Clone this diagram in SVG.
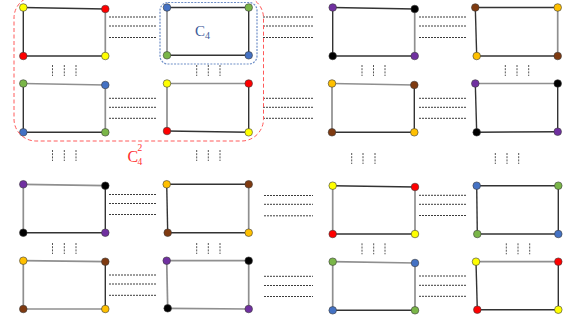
<svg xmlns="http://www.w3.org/2000/svg" width="576" height="322" viewBox="0 0 576 322">
<style>
.d{stroke:#333;stroke-width:1.4;fill:none}
.g{stroke:#8f8f8f;stroke-width:1.7;fill:none}
.v{stroke:#3a3a3a;stroke-width:0.6}
.hc{stroke:#3c3c3c;stroke-width:1;stroke-dasharray:2 1;fill:none}
.vc{stroke:#555;stroke-width:1;stroke-dasharray:2 1.2;fill:none}
.Y{fill:#ffff00}.R{fill:#ff0000}.B{fill:#4472c4}.G{fill:#7ab648}.P{fill:#7030a0}.K{fill:#000}.N{fill:#7f3a10}.O{fill:#ffc000}
</style>
<rect width="576" height="322" fill="#fff"/>
<g id="connectors">
<path class="hc" d="M109,17H157M109,26H157M109,37.5H157"/>
<path class="hc" d="M263,17H313M263,26H313M263,37.5H313"/>
<path class="hc" d="M419,17H467M419,26H467M419,37.5H467"/>
<path class="hc" d="M109,98.3H157M109,107.3H157M109,118.3H157"/>
<path class="hc" d="M263,98.3H313M263,107.3H313M263,118.3H313"/>
<path class="hc" d="M419,98.3H467M419,107.3H467M419,118.3H467"/>
<path class="hc" d="M109,194.5H157M109,203.5H157M109,214.5H157"/>
<path class="hc" d="M264,195.5H313M264,204.3H313M264,215.8H313"/>
<path class="hc" d="M419,195.3H467M419,204.3H467M419,215.5H467"/>
<path class="hc" d="M109,275H157M109,284H157M109,295.3H157"/>
<path class="hc" d="M264,276.3H313M264,285.5H313M264,296.5H313"/>
<path class="hc" d="M419,276H467M419,285.3H467M419,296.3H467"/>
<path class="vc" d="M52.5,65V76M64.3,65V76M76,65V76M196.7,65V76M208.3,65V76M220,65V76M362,65V76M373.5,65V76M385,65V76M505.3,65V76M517,65V76M528.7,65V76"/>
<path class="vc" d="M52.5,150V161M64.3,150V161M76,150V161M196.7,150V161M208.3,150V161M220,150V161M351.7,153V164M363,153V164M375,153V164M495.3,153V164M507,153V164M518.7,153V164"/>
<path class="vc" d="M52.5,243V254M64.3,243V254M76,243V254M196.7,243V254M208.3,243V254M220,243V254M362,243.3V254.3M373.7,243.3V254.3M385,243.3V254.3M506.3,243.3V254.3M518,243.3V254.3M529.7,243.3V254.3"/>
</g>
<g id="c4-sq-1">
<path class="d" d="M23.3,7.5L105.3,9"/><path class="d" d="M23.3,7.5V56"/><path class="g" d="M105.3,9V56"/><path class="d" d="M23.3,56H105.3"/>
<circle class="v Y" cx="23.3" cy="7.5" r="3.8"/><circle class="v R" cx="105.3" cy="9" r="3.8"/><circle class="v R" cx="23.3" cy="56" r="3.8"/><circle class="v Y" cx="105.3" cy="56" r="3.8"/>
</g>
<g id="c4-sq-2">
<path class="d" d="M167,7.5H248.7"/><path class="g" d="M167,7.5V55.3"/><path class="d" d="M248.7,7.5V55.3"/><path class="d" d="M167,55.3H248.7"/>
<circle class="v B" cx="167" cy="7.5" r="3.8"/><circle class="v G" cx="248.7" cy="7.5" r="3.8"/><circle class="v G" cx="167" cy="55.3" r="3.8"/><circle class="v B" cx="248.7" cy="55.3" r="3.8"/>
</g>
<g id="c4-sq-3">
<path class="g" d="M23.3,83.5L105.3,85"/><path class="d" d="M23.3,83.5V132.3"/><path class="g" d="M105.3,85V132.3"/><path class="d" d="M23.3,132.3H105.3"/>
<circle class="v G" cx="23.3" cy="83.5" r="3.8"/><circle class="v B" cx="105.3" cy="85" r="3.8"/><circle class="v B" cx="23.3" cy="132.3" r="3.8"/><circle class="v G" cx="105.3" cy="132.3" r="3.8"/>
</g>
<g id="c4-sq-4">
<path class="g" d="M167,83.5H248.7"/><path class="g" d="M167,83.5V131"/><path class="d" d="M248.7,83.5V132.3"/><path class="d" d="M167,131L248.7,132.3"/>
<circle class="v Y" cx="167" cy="83.5" r="3.8"/><circle class="v R" cx="248.7" cy="83.5" r="3.8"/><circle class="v R" cx="167" cy="131" r="3.8"/><circle class="v Y" cx="248.7" cy="132.3" r="3.8"/>
</g>
<g id="c4-sq-5">
<path class="d" d="M332.7,7.5L414.7,9"/><path class="d" d="M332.7,7.5V56"/><path class="g" d="M414.7,9V56"/><path class="d" d="M332.7,56H414.7"/>
<circle class="v P" cx="332.7" cy="7.5" r="3.8"/><circle class="v K" cx="414.7" cy="9" r="3.8"/><circle class="v K" cx="332.7" cy="56" r="3.8"/><circle class="v P" cx="414.7" cy="56" r="3.8"/>
</g>
<g id="c4-sq-6">
<path class="d" d="M475.3,7.5H557.7"/><path class="d" d="M475.3,7.5L476.7,56"/><path class="g" d="M557.7,7.5V56"/><path class="d" d="M476.7,56H557.7"/>
<circle class="v N" cx="475.3" cy="7.5" r="3.8"/><circle class="v O" cx="557.7" cy="7.5" r="3.8"/><circle class="v O" cx="476.7" cy="56" r="3.8"/><circle class="v N" cx="557.7" cy="56" r="3.8"/>
</g>
<g id="c4-sq-7">
<path class="g" d="M332,83.5L414.3,85"/><path class="g" d="M332,83.5V132.3"/><path class="d" d="M414.3,85V132.3"/><path class="d" d="M332,132.3H414.3"/>
<circle class="v O" cx="332" cy="83.5" r="3.8"/><circle class="v N" cx="414.3" cy="85" r="3.8"/><circle class="v N" cx="332" cy="132.3" r="3.8"/><circle class="v O" cx="414.3" cy="132.3" r="3.8"/>
</g>
<g id="c4-sq-8">
<path class="g" d="M475.3,83.5H557.7"/><path class="d" d="M475.3,83.5L476.7,132.3"/><path class="d" d="M557.7,83.5V131.7"/><path class="d" d="M476.7,132.3L557.7,131.7"/>
<circle class="v P" cx="475.3" cy="83.5" r="3.8"/><circle class="v K" cx="557.7" cy="83.5" r="3.8"/><circle class="v K" cx="476.7" cy="132.3" r="3.8"/><circle class="v P" cx="557.7" cy="131.7" r="3.8"/>
</g>
<g id="c4-sq-9">
<path class="g" d="M23.3,184.3L105.3,185.7"/><path class="g" d="M23.3,184.3V232.7"/><path class="d" d="M105.3,185.7V232.7"/><path class="d" d="M23.3,232.7H105.3"/>
<circle class="v P" cx="23.3" cy="184.3" r="3.8"/><circle class="v K" cx="105.3" cy="185.7" r="3.8"/><circle class="v K" cx="23.3" cy="232.7" r="3.8"/><circle class="v P" cx="105.3" cy="232.7" r="3.8"/>
</g>
<g id="c4-sq-10">
<path class="d" d="M166.7,184.3H248.7"/><path class="d" d="M166.7,184.3L167.7,232.7"/><path class="g" d="M248.7,184.3V232.7"/><path class="d" d="M167.7,232.7H248.7"/>
<circle class="v O" cx="166.7" cy="184.3" r="3.8"/><circle class="v N" cx="248.7" cy="184.3" r="3.8"/><circle class="v N" cx="167.7" cy="232.7" r="3.8"/><circle class="v O" cx="248.7" cy="232.7" r="3.8"/>
</g>
<g id="c4-sq-11">
<path class="g" d="M23.3,260.7L105.3,261.7"/><path class="g" d="M23.3,260.7V309"/><path class="d" d="M105.3,261.7V309"/><path class="g" d="M23.3,309H105.3"/>
<circle class="v O" cx="23.3" cy="260.7" r="3.8"/><circle class="v N" cx="105.3" cy="261.7" r="3.8"/><circle class="v N" cx="23.3" cy="309" r="3.8"/><circle class="v O" cx="105.3" cy="309" r="3.8"/>
</g>
<g id="c4-sq-12">
<path class="g" d="M166.7,260.7H248.7"/><path class="g" d="M166.7,260.7L167.7,308.3"/><path class="g" d="M248.7,260.7V309"/><path class="g" d="M167.7,308.3L248.7,309"/>
<circle class="v P" cx="166.7" cy="260.7" r="3.8"/><circle class="v K" cx="248.7" cy="260.7" r="3.8"/><circle class="v K" cx="167.7" cy="308.3" r="3.8"/><circle class="v P" cx="248.7" cy="309" r="3.8"/>
</g>
<g id="c4-sq-13">
<path class="d" d="M332.7,185.7L415,187"/><path class="g" d="M332.7,185.7V234"/><path class="g" d="M415,187V234"/><path class="d" d="M332.7,234H415"/>
<circle class="v Y" cx="332.7" cy="185.7" r="3.8"/><circle class="v R" cx="415" cy="187" r="3.8"/><circle class="v R" cx="332.7" cy="234" r="3.8"/><circle class="v Y" cx="415" cy="234" r="3.8"/>
</g>
<g id="c4-sq-14">
<path class="d" d="M476.7,185.7H558.3"/><path class="d" d="M476.7,185.7L477.3,234"/><path class="d" d="M558.3,185.7V234"/><path class="d" d="M477.3,234H558.3"/>
<circle class="v B" cx="476.7" cy="185.7" r="3.8"/><circle class="v G" cx="558.3" cy="185.7" r="3.8"/><circle class="v G" cx="477.3" cy="234" r="3.8"/><circle class="v B" cx="558.3" cy="234" r="3.8"/>
</g>
<g id="c4-sq-15">
<path class="g" d="M332.7,261.7L415,263"/><path class="g" d="M332.7,261.7V310.3"/><path class="g" d="M415,263V310.3"/><path class="d" d="M332.7,310.3H415"/>
<circle class="v G" cx="332.7" cy="261.7" r="3.8"/><circle class="v B" cx="415" cy="263" r="3.8"/><circle class="v B" cx="332.7" cy="310.3" r="3.8"/><circle class="v G" cx="415" cy="310.3" r="3.8"/>
</g>
<g id="c4-sq-16">
<path class="g" d="M476,261.7H558.3"/><path class="d" d="M476,261.7L477.3,309.7"/><path class="d" d="M558.3,261.7V309.7"/><path class="d" d="M477.3,309.7H558.3"/>
<circle class="v Y" cx="476" cy="261.7" r="3.8"/><circle class="v R" cx="558.3" cy="261.7" r="3.8"/><circle class="v R" cx="477.3" cy="309.7" r="3.8"/><circle class="v Y" cx="558.3" cy="309.7" r="3.8"/>
</g>
<g id="c4-highlight">
<rect x="160" y="2.5" width="97" height="61.5" rx="8" fill="none" stroke="#6f8fc8" stroke-width="1.2" stroke-dasharray="2 1.3"/>
<text x="195" y="36" font-family="Liberation Serif, serif" font-size="15" fill="#3d5a99">C<tspan font-size="10" dy="3">4</tspan></text>
</g>
<g id="c4-squared-highlight">
<rect x="14" y="-4" width="249.5" height="145" rx="22" fill="none" stroke="#ff5a5a" stroke-width="1" stroke-dasharray="4 2.5"/>
<text x="127.5" y="162" font-family="Liberation Serif, serif" font-size="16" fill="#ff3030">C</text>
<text x="137.5" y="151" font-family="Liberation Serif, serif" font-size="9.5" fill="#ff3030">2</text>
<text x="137.5" y="164.5" font-family="Liberation Serif, serif" font-size="9.5" fill="#ff3030">4</text>
</g>
</svg>
